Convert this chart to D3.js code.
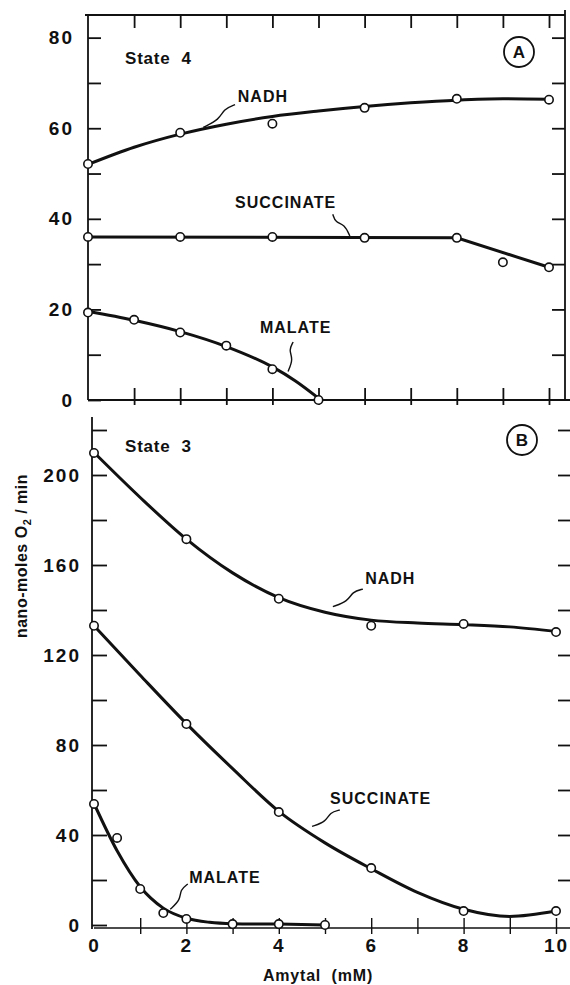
<!DOCTYPE html>
<html>
<head>
<meta charset="utf-8">
<script src="https://cdn.jsdelivr.net/npm/d3@7"></script>
<style>
body { margin: 0; background: #fff; }
svg text { font-family: "Liberation Sans", Arial, sans-serif; font-weight: bold; fill: #111; }
</style>
</head>
<body>
<div id="wrapper"></div>
<script>
// ---- data ----
// Panel A (State 4)
const nadhA_x = [0, 2, 4, 6, 8, 10];
const nadhA = [52.1, 59, 61, 64.5, 66.5, 66.3];
const nadhAFit_x = [0, 1, 2, 3, 4, 5, 6, 7, 8, 9, 10];
const nadhAFit = [52, 55.8, 58.7, 60.9, 62.6, 63.8, 64.8, 65.6, 66.2, 66.5, 66.4];

const succA_x = [0, 2, 4, 6, 8, 9, 10];
const succA = [36, 36, 36, 35.8, 35.8, 30.4, 29.3];
const succAFit_x = [0, 8, 10];
const succAFit = [36, 35.8, 29.3];

const malA_x = [0, 1, 2, 3, 4, 5];
const malA = [19.3, 17.7, 14.9, 12, 6.8, 0];
const malAFit_x = [0, 1, 2, 3, 4, 4.5, 5];
const malAFit = [19.6, 17.6, 15.1, 11.8, 7.3, 4.2, 0.4];

// Panel B (State 3)
const nadhB_x = [0, 2, 4, 6, 8, 10];
const nadhB = [209.8, 171.5, 145, 133, 133.8, 130.2];
const nadhBFit_x = [0, 1, 2, 3, 4, 5, 6, 7, 8, 9, 10];
const nadhBFit = [210, 190, 171.5, 156.5, 145.5, 139, 135.5, 134.2, 133.5, 132.5, 130.5];

const succB_x = [0, 2, 4, 6, 8, 10];
const succB = [133, 89.3, 50.2, 25.3, 6.2, 6.2];
const succBFit_x = [0, 1, 2, 3, 4, 5, 6, 7, 8, 9, 10];
const succBFit = [133, 111, 89.5, 69.5, 50.5, 36.5, 25, 14.5, 7, 3.8, 6.2];

const malB_x = [0, 0.5, 1, 1.5, 2, 3, 4, 5];
const malB = [53.8, 38.7, 16, 5.3, 2.7, 0.4, 0.4, 0];
const malBFit_x = [0, 0.5, 1, 1.5, 2, 2.5, 3, 4, 5];
const malBFit = [54, 33, 17, 7.5, 3, 1.2, 0.6, 0.4, 0];

// axis ticks and labels
const xMinorTicks = [1, 2, 3, 4, 5, 6, 7, 8, 9, 10];
const xLabels = [0, 2, 4, 6, 8, 10];
const yTicksA = [0, 10, 20, 30, 40, 50, 60, 70, 80];
const yLabelsA = [0, 20, 40, 60, 80];
const yTicksB = [0, 20, 40, 60, 80, 100, 120, 140, 160, 180, 200, 220];
const yLabelsB = [0, 40, 80, 120, 160, 200];

// curve labels: text anchor and leader from -> to (data units)
const labelsA = [
    { text: "NADH", x: 3.25, y: 65.8, from: [3.19, 65.2], to: [2.5, 60.2] },
    { text: "SUCCINATE", x: 3.19, y: 42.4, from: [5.31, 41.0], to: [5.68, 36.2] },
    { text: "MALATE", x: 3.73, y: 14.8, from: [4.45, 12.8], to: [4.34, 6.3] }
];
const labelsB = [
    { text: "NADH", x: 5.87, y: 151.6, from: [5.82, 149.3], to: [5.17, 141.5] },
    { text: "SUCCINATE", x: 5.11, y: 53.8, from: [5.32, 51.1], to: [4.72, 43.8] },
    { text: "MALATE", x: 2.06, y: 18.7, from: [2.03, 18.2], to: [1.65, 7.0] }
];

const width = 570, height = 985;

const svg = d3.select("#wrapper").append("svg")
    .attr("width", width)
    .attr("height", height);

// scales (the two panels were pasted a few px apart horizontally)
const xA = d3.scaleLinear().domain([0, 10]).range([88, 549]);
const yA = d3.scaleLinear().domain([0, 85]).range([400, 15]);
const xB = d3.scaleLinear().domain([0, 10]).range([94, 556]);
const yB = d3.scaleLinear().domain([0, 224]).range([925, 421]);

function zip(xs, ys) {
    return xs.map((x, i) => [x, ys[i]]);
}

function drawSeries(g, xs, ys, fx, fy, fitX, fitY, straight) {
    const line = d3.line()
        .x(d => xs(d[0]))
        .y(d => ys(d[1]))
        .curve(straight ? d3.curveLinear : d3.curveMonotoneX);
    g.append("path")
        .attr("d", line(zip(fitX, fitY)))
        .attr("fill", "none")
        .attr("stroke", "#111")
        .attr("stroke-width", 3);
    g.selectAll(null)
        .data(zip(fx, fy))
        .join("circle")
        .attr("cx", d => xs(d[0]))
        .attr("cy", d => ys(d[1]))
        .attr("r", 4.2)
        .attr("fill", "#fff")
        .attr("stroke", "#111")
        .attr("stroke-width", 1.6);
}

function drawLabels(g, xs, ys, labels) {
    labels.forEach(l => {
        g.append("text")
            .attr("x", xs(l.x))
            .attr("y", ys(l.y))
            .attr("font-size", 16)
            .attr("letter-spacing", 1)
            .text(l.text);
        // wiggly leader line
        const x0 = xs(l.from[0]), y0 = ys(l.from[1]);
        const x1 = xs(l.to[0]), y1 = ys(l.to[1]);
        const dx = x1 - x0, dy = y1 - y0;
        const len = Math.hypot(dx, dy);
        const nx = -dy / len, ny = dx / len;
        const pts = [
            [x0, y0],
            [x0 + dx * 0.3 + nx * 3, y0 + dy * 0.3 + ny * 3],
            [x0 + dx * 0.55 - nx * 3, y0 + dy * 0.55 - ny * 3],
            [x1, y1]
        ];
        g.append("path")
            .attr("d", d3.line().curve(d3.curveBasis)(pts))
            .attr("fill", "none")
            .attr("stroke", "#111")
            .attr("stroke-width", 1.4);
    });
}

function styleAxis(g, w) {
    g.selectAll("path.domain").attr("stroke", "#111").attr("stroke-width", w);
    g.selectAll(".tick line").attr("stroke", "#111").attr("stroke-width", w);
    g.selectAll(".tick text")
        .attr("fill", "#111")
        .attr("font-size", 19)
        .attr("letter-spacing", 2)
        .attr("font-family", "'Liberation Sans', Arial, sans-serif")
        .attr("font-weight", "bold");
}

// ---------------- Panel A ----------------
const gA = svg.append("g");

// left axis
gA.append("g")
    .attr("transform", `translate(${xA(0)},0)`)
    .call(d3.axisLeft(yA)
        .tickValues(yTicksA)
        .tickSizeInner(-13).tickSizeOuter(0)
        .tickPadding(14)
        .tickFormat(d => yLabelsA.includes(d) ? d : ""))
    .call(g => g.select("path.domain").attr("d", `M0,${yA(0)}V${yA.range()[1]}`))
    .call(styleAxis, 1.8);

// right side ticks
gA.append("g")
    .attr("transform", `translate(565,0)`)
    .call(d3.axisRight(yA)
        .tickValues(yTicksA.filter(v => v > 0))
        .tickSizeInner(-13).tickSizeOuter(0)
        .tickFormat(""))
    .call(g => g.select("path.domain").attr("d", `M0,${yA(0)}V${yA.range()[1] - 5}`))
    .call(styleAxis, 1.8);

// top border ticks
gA.append("g")
    .attr("transform", `translate(0,${yA.range()[1]})`)
    .call(d3.axisTop(xA)
        .tickValues(xMinorTicks)
        .tickSizeInner(-13).tickSizeOuter(0)
        .tickFormat(""))
    .call(g => g.select("path.domain").attr("d", `M${xA(0) - 3},0H565`))
    .call(styleAxis, 1.8);

// bottom axis
gA.append("g")
    .attr("transform", `translate(0,${yA(0)})`)
    .call(d3.axisBottom(xA)
        .tickValues(xMinorTicks)
        .tickSizeInner(5).tickSizeOuter(0)
        .tickFormat(""))
    .call(g => g.selectAll(".tick line").attr("y1", -12))
    .call(g => g.select("path.domain").attr("d", `M${xA(0)},0H${width}`))
    .call(styleAxis, 1.8);

drawSeries(gA, xA, yA, nadhA_x, nadhA, nadhAFit_x, nadhAFit, false);
drawSeries(gA, xA, yA, succA_x, succA, succAFit_x, succAFit, true);
drawSeries(gA, xA, yA, malA_x, malA, malAFit_x, malAFit, false);
drawLabels(gA, xA, yA, labelsA);

gA.append("text")
    .attr("x", 125).attr("y", 64)
    .attr("font-size", 17)
    .attr("letter-spacing", 0.8)
    .attr("xml:space", "preserve")
    .text("State  4");

gA.append("circle").attr("cx", 519).attr("cy", 52).attr("r", 15)
    .attr("fill", "none").attr("stroke", "#111").attr("stroke-width", 1.8);
gA.append("text").attr("x", 519).attr("y", 58)
    .attr("text-anchor", "middle").attr("font-size", 17).text("A");

// ---------------- Panel B ----------------
const gB = svg.append("g");

gB.append("g")
    .attr("transform", `translate(${xB(0) - 2},0)`)
    .call(d3.axisLeft(yB)
        .tickValues(yTicksB)
        .tickSizeInner(-15).tickSizeOuter(0)
        .tickPadding(11)
        .tickFormat(d => yLabelsB.includes(d) ? d : ""))
    .call(g => g.select("path.domain").attr("d", `M0,${yB(0) + 4}V${yB.range()[1] - 4}`))
    .call(styleAxis, 1.8);

// right side ticks (border falls off the picture)
gB.append("g")
    .attr("transform", `translate(571,0)`)
    .call(d3.axisRight(yB)
        .tickValues(yTicksB.filter(v => v > 0))
        .tickSizeInner(-13).tickSizeOuter(0)
        .tickFormat(""))
    .call(g => g.select("path.domain").remove())
    .call(styleAxis, 1.8);

// bottom axis
gB.append("g")
    .attr("transform", `translate(0,${yB(0) + 3})`)
    .call(d3.axisBottom(xB)
        .tickValues(xMinorTicks)
        .tickSizeInner(6).tickSizeOuter(0)
        .tickFormat(""))
    .call(g => g.selectAll(".tick line").attr("y1", -10))
    .call(g => g.select("path.domain").attr("d", `M${xB(0)},0H${width}`))
    .call(styleAxis, 1.4);

// x labels
gB.append("g")
    .attr("transform", `translate(0,${yB(0) + 3})`)
    .call(d3.axisBottom(xB)
        .tickValues(xLabels)
        .tickSize(0)
        .tickPadding(11)
        .tickFormat(d3.format("d")))
    .call(g => g.select("path.domain").remove())
    .call(styleAxis, 1.4);

drawSeries(gB, xB, yB, nadhB_x, nadhB, nadhBFit_x, nadhBFit, false);
drawSeries(gB, xB, yB, succB_x, succB, succBFit_x, succBFit, false);
drawSeries(gB, xB, yB, malB_x, malB, malBFit_x, malBFit, false);
drawLabels(gB, xB, yB, labelsB);

gB.append("text")
    .attr("x", 125).attr("y", 452)
    .attr("font-size", 17)
    .attr("letter-spacing", 0.8)
    .attr("xml:space", "preserve")
    .text("State  3");

gB.append("circle").attr("cx", 522).attr("cy", 440).attr("r", 15)
    .attr("fill", "none").attr("stroke", "#111").attr("stroke-width", 1.8);
gB.append("text").attr("x", 522).attr("y", 446)
    .attr("text-anchor", "middle").attr("font-size", 17).text("B");

// axis titles
svg.append("text")
    .attr("x", 318).attr("y", 981)
    .attr("text-anchor", "middle")
    .attr("font-size", 16)
    .attr("letter-spacing", 0.8)
    .attr("xml:space", "preserve")
    .text("Amytal  (mM)");

const yTitle = svg.append("text")
    .attr("transform", "translate(27,556) rotate(-90)")
    .attr("text-anchor", "middle")
    .attr("font-size", 16)
    .attr("letter-spacing", 0.5);
yTitle.append("tspan").text("nano-moles O");
yTitle.append("tspan").attr("font-size", 11).attr("dy", 4).text("2");
yTitle.append("tspan").attr("dy", -4).attr("xml:space", "preserve").text(" / min");
</script>
</body>
</html>
